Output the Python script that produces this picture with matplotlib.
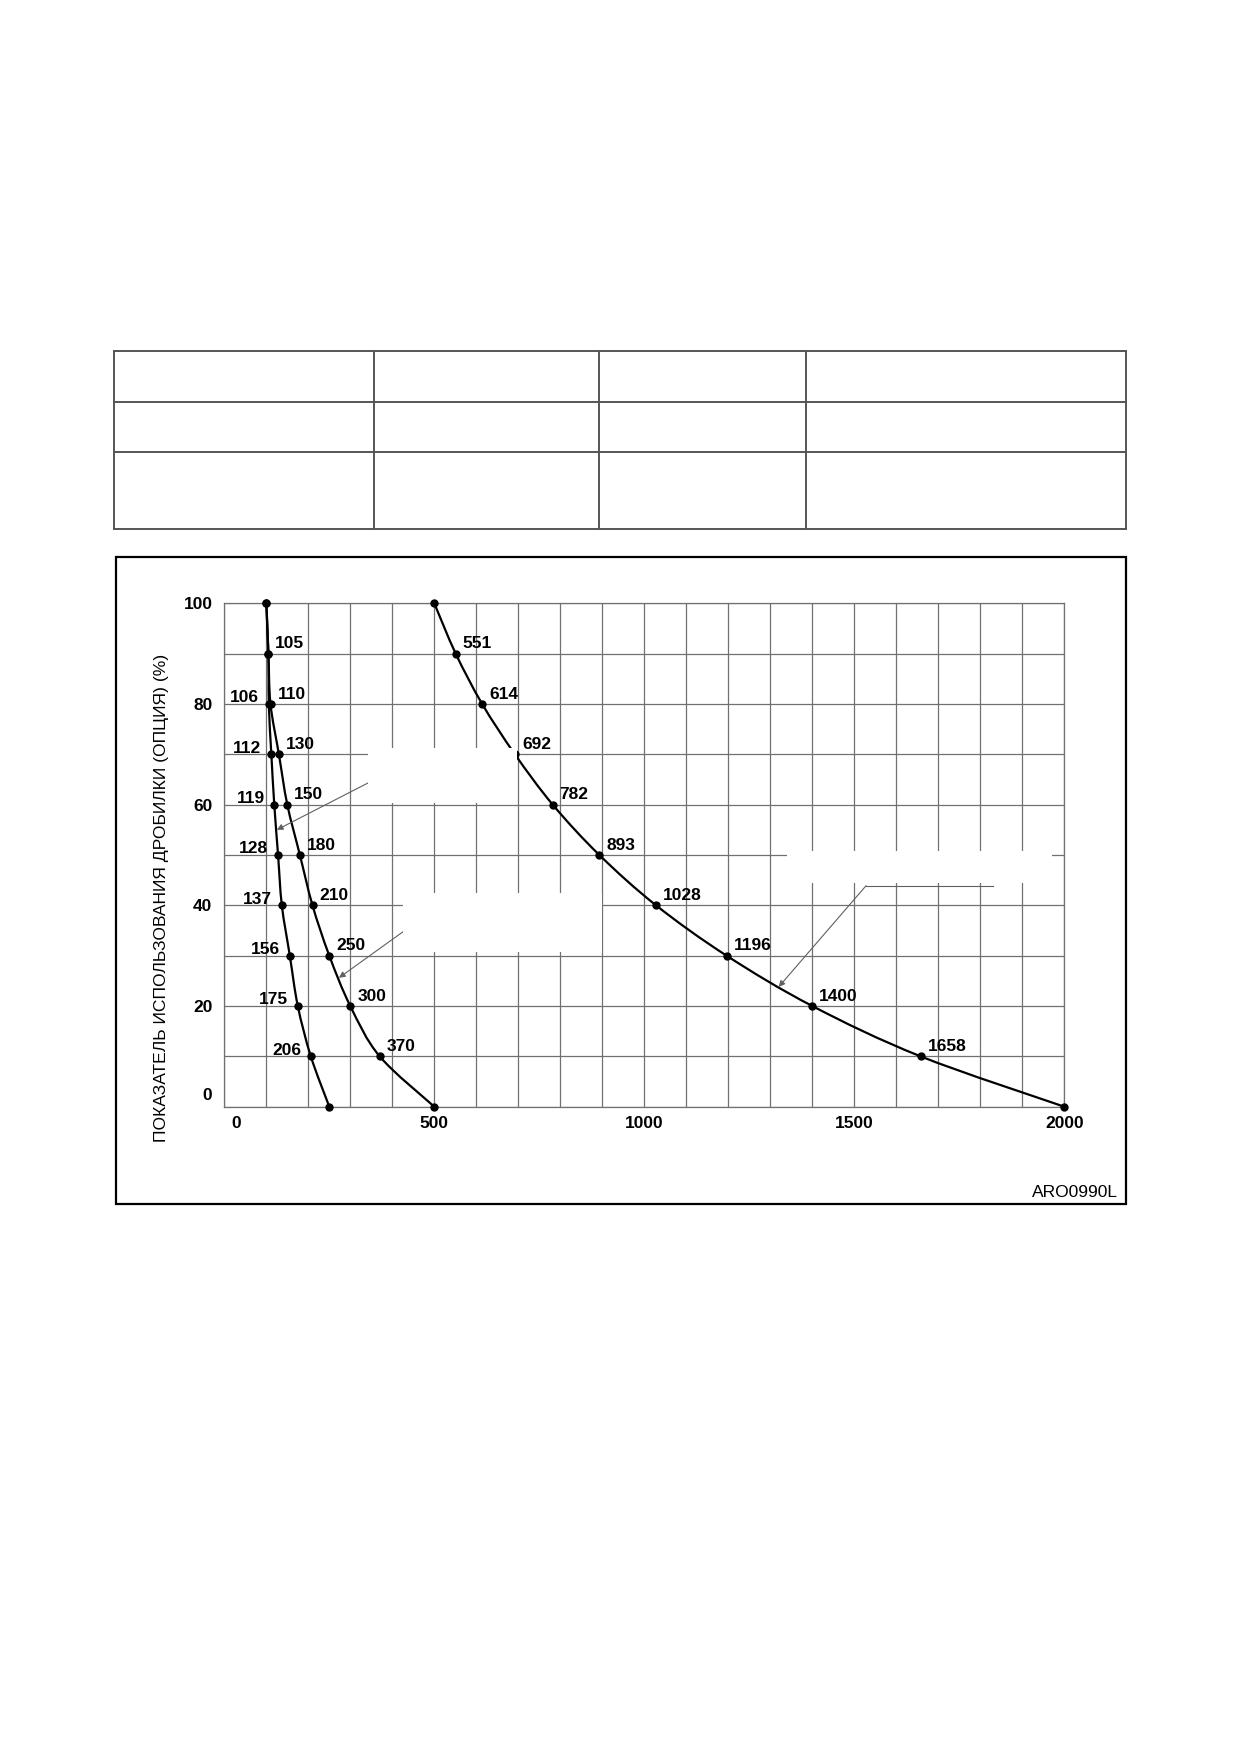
import matplotlib
matplotlib.use("Agg")
from matplotlib import pyplot as plt
from matplotlib.patches import Rectangle, PathPatch
from matplotlib.path import Path
import matplotlib.transforms as mtransforms

plt.rcParams['font.family'] = ['Liberation Sans', 'DejaVu Sans']

# ---------------------------------- DATA ----------------------------------
# utilisation of the breaker (%) on the y axis, top to bottom
usage = [100, 90, 80, 70, 60, 50, 40, 30, 20, 10, 0]
# three curves, x values
curve_low = [100, 105, 106, 112, 119, 128, 137, 156, 175, 206, 250]
curve_mid = [100, 105, 110, 130, 150, 180, 210, 250, 300, 370, 500]
curve_high = [500, 551, 614, 692, 782, 893, 1028, 1196, 1400, 1658, 2000]

x_ticks = [0, 500, 1000, 1500, 2000]
y_ticks = [0, 20, 40, 60, 80, 100]
y_title = "ПОКАЗАТЕЛЬ ИСПОЛЬЗОВАНИЯ ДРОБИЛКИ (ОПЦИЯ) (%)"
figure_code = "ARO0990L"


def smooth_path(xs, ys):
    # Catmull-Rom through the points, drawn as cubic Bezier pieces
    pts = list(zip(xs, ys))
    verts = [pts[0]]
    codes = [Path.MOVETO]
    n = len(pts)
    for i in range(n - 1):
        p0 = pts[max(i - 1, 0)]
        p1 = pts[i]
        p2 = pts[i + 1]
        p3 = pts[min(i + 2, n - 1)]
        c1 = (p1[0] + (p2[0] - p0[0]) / 6, p1[1] + (p2[1] - p0[1]) / 6)
        c2 = (p2[0] - (p3[0] - p1[0]) / 6, p2[1] - (p3[1] - p1[1]) / 6)
        verts += [c1, c2, p2]
        codes += [Path.CURVE4] * 3
    return Path(verts, codes)


# ---------------------------------- FIGURE ----------------------------------
W, H = 1239, 1754
fig = plt.figure(figsize=(W / 100, H / 100), dpi=100)

# plot area in pixels (from the top left of the page)
px_left, px_right, px_top, px_bottom = 224.3, 1064.3, 603.3, 1106.7
ax = fig.add_axes([px_left / W, 1 - px_bottom / H,
                   (px_right - px_left) / W, (px_bottom - px_top) / H])

# overlay in page pixels for the empty table and the frame
page = fig.add_axes([0, 0, 1, 1], zorder=-1)
page.set_xlim(0, W)
page.set_ylim(H, 0)
page.axis("off")

# empty table above the chart
col_edges = [113.5, 374, 599, 806, 1126]
row_edges = [351, 402, 452, 529]
for x in col_edges:
    page.plot([x, x], [row_edges[0], row_edges[-1]], color="#555555", lw=1.4)
for y in row_edges:
    page.plot([col_edges[0], col_edges[-1]], [y, y], color="#555555", lw=1.4)

# frame round the chart
page.add_patch(Rectangle((116, 557), 1010, 647, fill=False, ec="black", lw=1.6))

# ---------------------------------- CHART ----------------------------------
ax.set_xlim(0, 2000)
ax.set_ylim(0, 100)
ax.set_xticks(range(0, 2001, 100))
ax.set_yticks(range(0, 101, 10))
ax.grid(True, color="#707070", lw=0.9)
for s in ax.spines.values():
    s.set_color("#707070")
    s.set_linewidth(0.9)
ax.tick_params(length=0, pad=8.5)

# only some gridlines carry a label
ax.set_xticklabels([str(v) if v in x_ticks else "" for v in range(0, 2001, 100)],
                   fontsize=12.5, fontweight="bold")
ax.set_yticklabels([str(v) if v in y_ticks else "" for v in range(0, 101, 10)],
                   fontsize=12.5, fontweight="bold")
ax.tick_params(axis="x", pad=7)
# the zeros sit a little off the gridlines in the original drawing
ax.get_yticklabels()[0].set_transform(
    ax.get_yticklabels()[0].get_transform()
    + mtransforms.ScaledTranslation(0, 13 / 100, fig.dpi_scale_trans))
ax.get_xticklabels()[0].set_transform(
    ax.get_xticklabels()[0].get_transform()
    + mtransforms.ScaledTranslation(12 / 100, 0, fig.dpi_scale_trans))

for xs in (curve_low, curve_mid, curve_high):
    ax.add_patch(PathPatch(smooth_path(xs, usage), fill=False, ec="black",
                           lw=1.6, zorder=3, clip_on=False))
    ax.plot(xs, usage, ls="none", color="black", marker="o", ms=5, zorder=3,
            clip_on=False)

lab = dict(fontsize=12.5, fontweight="bold", textcoords="offset points", va="center")
for i in range(2, 10):
    ax.annotate(str(curve_low[i]), (curve_low[i], usage[i]), xytext=(-7, 4.5),
                ha="right", **lab)
for i in range(1, 10):
    ax.annotate(str(curve_mid[i]), (curve_mid[i], usage[i]), xytext=(5, 7),
                ha="left", **lab)
for i in range(1, 10):
    ax.annotate(str(curve_high[i]), (curve_high[i], usage[i]), xytext=(5, 7),
                ha="left", **lab)

# leader arrows pointing to each curve (their captions are blanked out)
arrow = dict(arrowstyle="-|>", color="#606060", lw=0.8, mutation_scale=9,
             shrinkA=0, shrinkB=0)
ax.annotate("", xy=(125, 55), xytext=(342, 64.3), arrowprops=arrow, zorder=4)
ax.annotate("", xy=(273, 25.6), xytext=(428, 34.9), arrowprops=arrow, zorder=4)
ax.plot([1830, 1528], [43.9, 43.9], color="#606060", lw=0.8, zorder=4)
ax.annotate("", xy=(1320, 23.8), xytext=(1528, 43.9), arrowprops=arrow, zorder=4)

# blank patches where the captions were removed
for (x0, x1, y0, y1) in [(342, 697, 60.4, 71.3), (426, 899, 30.8, 42.5),
                         (1340, 1970, 44.4, 50.8)]:
    ax.add_patch(Rectangle((x0, y0), x1 - x0, y1 - y0, fc="white", ec="none",
                           zorder=5))

fig.text(162 / W, 1 - 898 / H, y_title, rotation=90, ha="center", va="center",
         fontsize=12.6)
fig.text(1118 / W, 1 - 1197 / H, figure_code, ha="right", va="baseline",
         fontsize=12.5)

fig.savefig("out.png", dpi=100)
